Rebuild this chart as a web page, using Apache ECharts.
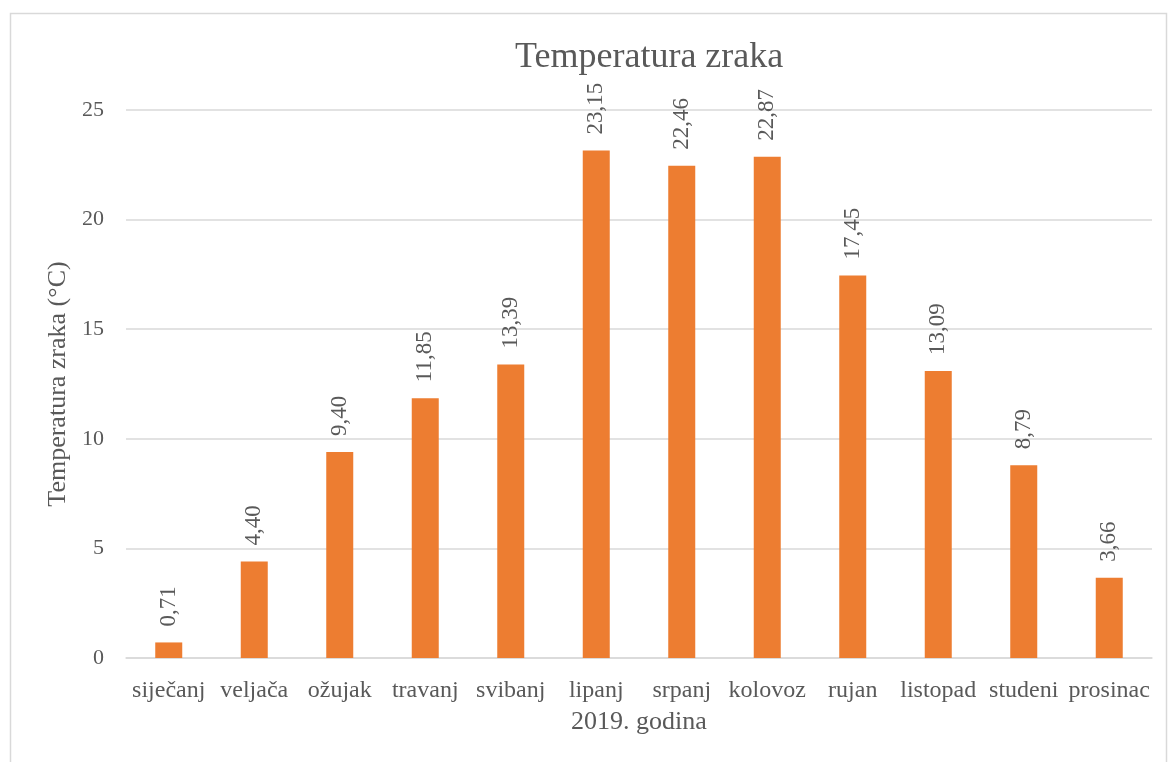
<!DOCTYPE html>
<html>
<head>
<meta charset="utf-8">
<script src="https://cdn.jsdelivr.net/npm/echarts@6/dist/echarts.min.js"></script>
<style>
  html, body { margin: 0; padding: 0; background: #fff; }
  #chart { width: 1168px; height: 762px; }
</style>
</head>
<body>
<div id="chart"></div>
<script>
var months = ['siječanj', 'veljača', 'ožujak', 'travanj', 'svibanj', 'lipanj', 'srpanj', 'kolovoz', 'rujan', 'listopad', 'studeni', 'prosinac'];
var temps = [0.71, 4.40, 9.40, 11.85, 13.39, 23.15, 22.46, 22.87, 17.45, 13.09, 8.79, 3.66];

var serif = '"Liberation Serif", "Times New Roman", serif';
var textColor = '#595959';

var myChart = echarts.init(document.getElementById('chart'));

var option = {
    animation: false,
    textStyle: { fontFamily: serif },
    graphic: [{
        type: 'rect',
        shape: { x: 10.5, y: 13.5, width: 1156, height: 760 },
        style: { fill: 'none', stroke: '#d9d9d9', lineWidth: 1.5 }
    }],
    title: {
        text: 'Temperatura zraka',
        left: 510,
        top: 35,
        textStyle: { fontFamily: serif, fontSize: 36, fontWeight: 'normal', color: textColor }
    },
    grid: { left: 126, right: 16, top: 110, bottom: 104 },
    xAxis: {
        type: 'category',
        data: months,
        name: '2019. godina',
        nameLocation: 'middle',
        nameGap: 51,
        nameTextStyle: { fontFamily: serif, fontSize: 26, color: textColor },
        axisLine: { lineStyle: { color: '#d9d9d9', width: 1.5 } },
        axisTick: { show: false },
        axisLabel: { fontFamily: serif, fontSize: 24, color: textColor, margin: 21, interval: 0 }
    },
    yAxis: {
        type: 'value',
        min: 0,
        max: 25,
        interval: 5,
        name: 'Temperatura zraka (°C)',
        nameLocation: 'middle',
        nameGap: 52,
        nameTextStyle: { fontFamily: serif, fontSize: 26, color: textColor },
        axisLine: { show: false },
        axisTick: { show: false },
        axisLabel: { fontFamily: serif, fontSize: 22, color: textColor, margin: 22 },
        splitLine: { lineStyle: { color: '#d9d9d9', width: 1.5 } }
    },
    series: [{
        type: 'bar',
        data: temps,
        barWidth: 27,
        itemStyle: { color: '#ED7D31' },
        label: {
            show: true,
            position: 'top',
            rotate: 90,
            align: 'left',
            verticalAlign: 'middle',
            distance: 16,
            fontFamily: serif,
            fontSize: 23,
            color: textColor,
            formatter: function (p) {
                return p.value.toFixed(2).replace('.', ',');
            }
        }
    }]
};
myChart.setOption(option, true);
</script>
</body>
</html>
